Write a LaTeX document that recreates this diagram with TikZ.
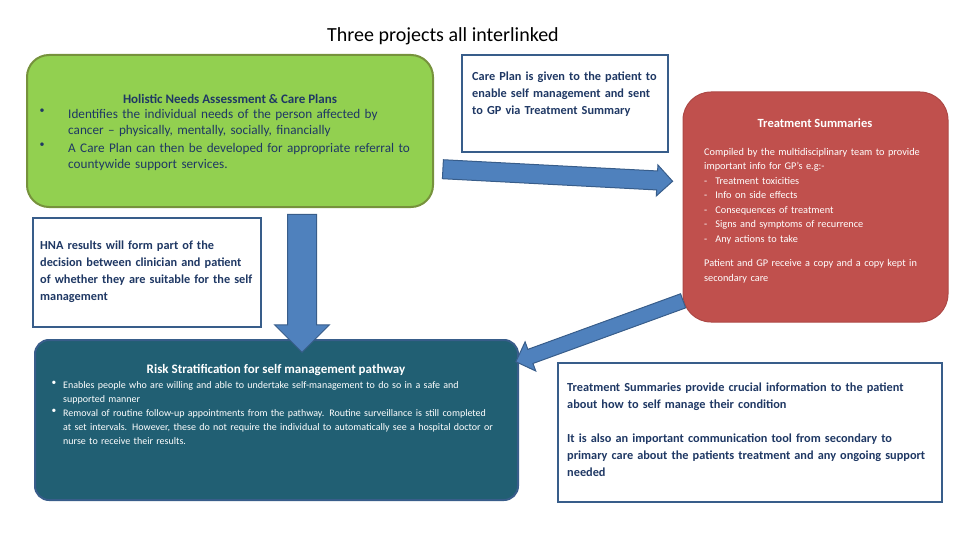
\documentclass[tikz,border=0pt]{standalone}
\usepackage{fontspec}
\setmainfont{Carlito}
\usetikzlibrary{shapes.arrows}
\definecolor{hnagreen}{HTML}{92D050}
\definecolor{hnaedge}{HTML}{76923C}
\definecolor{navytext}{HTML}{1F3864}
\definecolor{darkblue}{HTML}{385D8A}
\definecolor{midblue}{HTML}{4F81BD}
\definecolor{tsred}{HTML}{C0504D}
\definecolor{riskteal}{HTML}{215F73}
\hyphenpenalty=10000
\exhyphenpenalty=10000
\tikzset{
  panel/.style={draw=darkblue, line width=2.5pt, fill=white, inner sep=0pt},
  bold text/.style={text=navytext, anchor=north west, align=left, inner sep=0pt,
    font=\bfseries\fontsize{12.3}{16.8}\selectfont},
  bigarrow/.style={single arrow, draw=darkblue, fill=midblue, line width=1pt,
    inner xsep=0pt, minimum width=0pt}
}
\begin{document}
\begin{tikzpicture}[x=1pt, y=-1pt]
        \useasboundingbox (0,0) rectangle (960,540);

        % --- title ---
        \node[font=\fontsize{20}{24}\selectfont] (title) at (443,36) {Three projects all interlinked};

        % --- holistic needs assessment ---
        \draw[fill=hnagreen, draw=hnaedge, line width=2pt, rounded corners=22pt] (27,55) rectangle (433,207);
        \node[text=navytext, font=\bfseries\fontsize{13}{15}\selectfont] (hnatitle) at (230,99) {Holistic Needs Assessment \& Care Plans};
        \foreach \name/\ypos/\txt in {
            hnaone/109/{Identifies the individual needs of the person affected by cancer -- physically, mentally, socially, financially},
            hnatwo/143/{A Care Plan can then be developed for appropriate referral to countywide support services.}} {
            \node[text=navytext, anchor=north, inner sep=0pt] (\name dot) at (42,\ypos) {\textbullet};
            \node[text=navytext, anchor=north west, text width=345pt, align=left, inner sep=0pt,
                  font=\fontsize{13.2}{16.5}\selectfont] (\name) at (68,\ypos) {\txt};
        }

        % --- care plan box ---
        \draw[panel] (462,55) rectangle (668,152);
        \node[bold text, text width=192pt] (careplan) at (472,72)
            {Care Plan is given to the patient to enable self management and sent to GP via Treatment Summary};

        % --- treatment summaries ---
        \draw[fill=tsred, draw=tsred!90!black, line width=1pt, rounded corners=28pt] (683,92) rectangle (948,322);
        \node[text=white, font=\bfseries\fontsize{12.5}{14}\selectfont] (tstitle) at (815,123) {Treatment Summaries};
        \node[text=white, anchor=north west, text width=232pt, align=left, inner sep=0pt,
              font=\fontsize{10.3}{14.5}\selectfont] (tstext) at (704,148)
            {Compiled by the multidisciplinary team to provide important info for GP's e.g:-\\
             -\hspace{8pt}Treatment toxicities\\
             -\hspace{8pt}Info on side effects\\
             -\hspace{8pt}Consequences of treatment\\
             -\hspace{8pt}Signs and symptoms of recurrence\\
             -\hspace{8pt}Any actions to take\\[10pt]
             Patient and GP receive a copy and a copy kept in secondary care};

        % --- HNA results ---
        \draw[panel] (33,218) rectangle (261,327);
        \node[bold text, text width=216pt] (hnaresult) at (40,241)
            {HNA results will form part of the decision between clinician and patient of whether they are suitable for the self management};

        % --- risk stratification ---
        \draw[fill=riskteal, draw=darkblue, line width=2pt, rounded corners=14pt] (35,340) rectangle (518,500);
        \node[text=white, font=\bfseries\fontsize{13}{15}\selectfont] (risktitle) at (276,370) {Risk Stratification for self management pathway};
        \foreach \name/\ypos/\txt in {
            riskone/381/{Enables people who are willing and able to undertake self-management to do so in a safe and supported manner},
            risktwo/409/{Removal of routine follow-up appointments from the pathway. Routine surveillance is still completed at set intervals. However, these do not require the individual to automatically see a hospital doctor or nurse to receive their results.}} {
            \node[text=white, anchor=north, inner sep=0pt, font=\fontsize{9.5}{14}\selectfont] (\name dot) at (54,\ypos) {\textbullet};
            \node[text=white, anchor=north west, text width=440pt, align=left, inner sep=0pt,
                  font=\fontsize{10}{14}\selectfont] (\name) at (63,\ypos) {\txt};
        }

        % --- summary value ---
        \draw[panel] (558,363) rectangle (942,502);
        \node[bold text, text width=365pt] (tsvalue) at (567,383)
            {Treatment Summaries provide crucial information to the patient about how to self manage their condition\\[17pt]
             It is also an important communication tool from secondary to primary care about the patients treatment and any ongoing support needed};

        % --- connecting arrows ---
        \node[bigarrow, inner ysep=9pt, single arrow head extend=6pt, minimum height=230pt, rotate=-3] (toright) at (553,175) {};
        \node[bigarrow, inner ysep=14pt, single arrow head extend=13pt, minimum height=138pt, rotate=-90] (todown) at (302,276) {};
        \node[bigarrow, inner ysep=7pt, single arrow head extend=8pt, minimum height=178pt, rotate=200] (toleft) at (603,330) {};
\end{tikzpicture}
\end{document}
